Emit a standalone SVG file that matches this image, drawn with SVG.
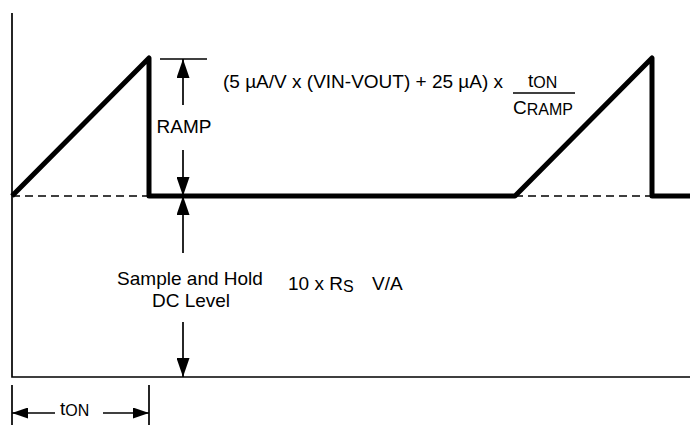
<svg xmlns="http://www.w3.org/2000/svg" width="690" height="425" viewBox="0 0 690 425">
<style>
.thin{stroke:#000;stroke-width:1.7;fill:none}
.wave{stroke:#000;stroke-width:5;fill:none;stroke-linejoin:round}
.dash{stroke:#000;stroke-width:1.5;fill:none;stroke-dasharray:8 5}
.arr{stroke:#000;stroke-width:1.7;fill:none;marker-end:url(#ah)}
.arrh{stroke:#000;stroke-width:1.7;fill:none;marker-end:url(#ahs)}
text{font-family:"Liberation Sans",Arial,sans-serif;font-size:19px;fill:#000}
.sub{font-size:16px}
.mid{text-anchor:middle}
</style>
<defs>
<marker id="ah" markerUnits="userSpaceOnUse" markerWidth="19" markerHeight="13" refX="19" refY="6.5" orient="auto"><path d="M0,0 L19,6.5 L0,13 z" fill="#000"/></marker>
<marker id="ahs" markerUnits="userSpaceOnUse" markerWidth="16" markerHeight="11" refX="16" refY="5.5" orient="auto"><path d="M0,0 L16,5.5 L0,11 z" fill="#000"/></marker>
</defs>
<g id="axes">
<path class="thin" d="M12,13 L12,377 L690,377"/>
<path class="thin" d="M160,59 L207,59"/>
<path class="thin" d="M12,385 L12,425 M149,385 L149,425"/>
</g>
<g id="waveform">
<path class="dash" d="M12,196 L149,196 M515,196 L652,196"/>
<path class="wave" d="M12,196 L149,58 L149,196 L515,196 L652,58 L652,196 L690,196"/>
</g>
<g id="connectors">
<path class="arr" d="M183,105 L183,59"/>
<path class="arr" d="M183,150 L183,196"/>
<path class="arr" d="M183,253 L183,196"/>
<path class="arr" d="M183,322 L183,377"/>
<path class="arrh" d="M55,413 L12,413"/>
<path class="arrh" d="M103,413 L149,413"/>
</g>
<g id="ramp-label">
<text class="mid" x="184" y="133">RAMP</text>
</g>
<g id="formula">
<text x="223" y="88">(5 µA/V x (VIN-VOUT) + 25 µA) x</text>
<text x="528" y="87">t<tspan class="sub" dy="1">ON</tspan></text>
<path class="thin" d="M513,93 L575,93"/>
<text x="513" y="114">C<tspan class="sub" dy="1">RAMP</tspan></text>
</g>
<g id="dc-label">
<text class="mid" x="190" y="285">Sample and Hold</text>
<text class="mid" x="191" y="307">DC Level</text>
</g>
<g id="dc-formula">
<text x="288" y="290">10 x R<tspan class="sub" dy="2">S</tspan><tspan dy="-2" x="372">V/A</tspan></text>
</g>
<g id="ton-label">
<text x="60" y="415">t<tspan class="sub" dy="1">ON</tspan></text>
</g>
</svg>
